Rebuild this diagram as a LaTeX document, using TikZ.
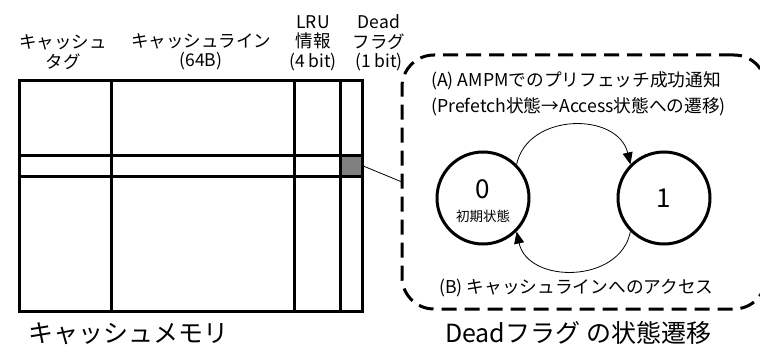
\documentclass[tikz,border=0pt]{standalone}
\usepackage{fontspec}
\setmainfont{Noto Sans CJK JP}
\usetikzlibrary{arrows.meta}
\definecolor{cellgray}{HTML}{808080}
\tikzset{
  grid/.style={line width=3pt},
  hdr/.style={font=\fontsize{17.5}{19.5}\selectfont, align=center, inner sep=0pt},
  statenode/.style={circle, draw, line width=3pt, minimum size=92pt, inner sep=0pt},
  trans/.style={line width=0.8pt, -{Triangle[length=12pt,width=10pt]}},
  lbl/.style={font=\fontsize{17.7}{20}\selectfont, anchor=west, inner sep=0pt},
  caption/.style={font=\fontsize{25}{28}\selectfont, anchor=west, inner sep=0pt},
}
\begin{document}
\begin{tikzpicture}[x=1pt, y=-1pt]
\useasboundingbox (0,0) rectangle (760,350);
% headers
\node[hdr] (htag) at (63,52) {キャッシュ\\タグ};
\node[hdr] (hline) at (201,52) {キャッシュライン\\(64B)};
\node[hdr] (hlru) at (313,43) {LRU\\情報\\(4 bit)};
\node[hdr] (hdead) at (379,43) {Dead\\フラグ\\(1 bit)};
% table
\draw[grid] (19,81) rectangle (362,311);
\draw[grid] (111,81) -- (111,311);
\draw[grid] (294,81) -- (294,311);
\draw[grid] (340,81) -- (340,311);
\draw[grid] (19,155) -- (362,155);
\draw[grid] (19,176) -- (362,176);
\node[draw, fill=cellgray, line width=3pt, minimum width=22pt, minimum height=21pt, inner sep=0pt, outer sep=0pt] (cell) at (351,165.5) {};
% dashed box
\node[draw, line width=3pt, rounded corners=32pt, dash pattern=on 15pt off 8pt,
      minimum width=364pt, minimum height=254pt, inner sep=0pt, outer sep=0pt] (box) at (584,182) {};
\draw[line width=0.8pt] (cell.east) -- (box.west);
% states
\node[statenode] (s0) at (483,198) {};
\node[font=\fontsize{26}{28}\selectfont, inner sep=0pt] (s0num) at (483,189) {0};
\node[font=\fontsize{13.5}{15}\selectfont, inner sep=0pt] (s0txt) at (483,216) {初期状態};
\node[statenode, font=\fontsize{26}{28}\selectfont] (s1) at (664,198) {1};
\draw[trans] (s0.45) .. controls (528,112) and (618,112) .. (s1.135);
\draw[trans] (s1.-135) .. controls (620,284) and (528,284) .. (s0.-45);
% labels
\node[lbl] (la1) at (431,81) {(A) AMPMでのプリフェッチ成功通知};
\node[lbl] (la2) at (431,107) {(Prefetch状態→Access状態への遷移)};
\node[lbl] (lb) at (439,288) {(B) キャッシュラインへのアクセス};
% captions
\node[caption] (cap1) at (28,334) {キャッシュメモリ};
\node[caption] (cap2) at (445,333) {Deadフラグ の状態遷移};
\end{tikzpicture}
\end{document}
